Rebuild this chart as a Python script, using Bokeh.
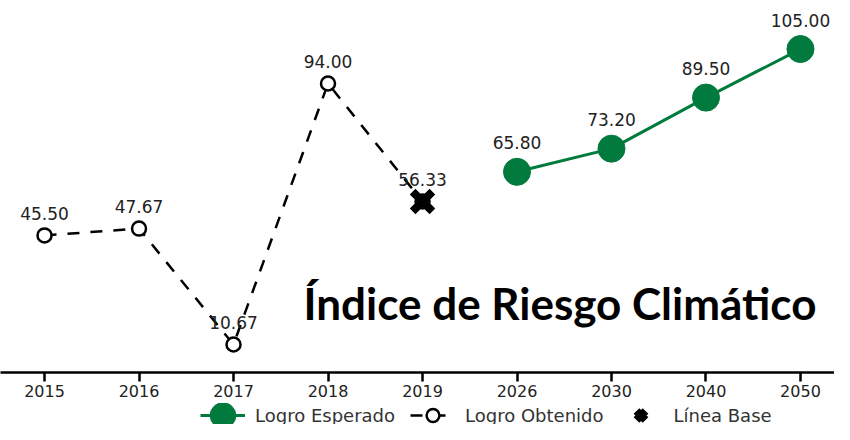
from bokeh.plotting import figure
from bokeh.layouts import column
from bokeh.models import Range1d, FixedTicker, Legend, LegendItem, Label, ColumnDataSource
from bokeh.core.properties import value
from bokeh.embed import file_html
from bokeh.resources import INLINE

# ---- data ----
years = ["2015", "2016", "2017", "2018", "2019", "2026", "2030", "2040", "2050"]
obtenido_years = ["2015", "2016", "2017", "2018", "2019"]
obtenido = [45.50, 47.67, 10.67, 94.00, 56.33]
esperado_years = ["2026", "2030", "2040", "2050"]
esperado = [65.80, 73.20, 89.50, 105.00]
base_years = ["2019"]
base = [56.33]
title_text = "Índice de Riesgo Climático"

GREEN = "#007a3d"
FONT = "DejaVu Sans"


def xpos(ys):
    return [years.index(y) for y in ys]


src_o = ColumnDataSource(dict(x=xpos(obtenido_years), y=obtenido,
                              label=[f"{v:.2f}" for v in obtenido]))
src_e = ColumnDataSource(dict(x=xpos(esperado_years), y=esperado,
                              label=[f"{v:.2f}" for v in esperado]))
src_b = ColumnDataSource(dict(x=xpos(base_years), y=base))


def draw_series(fig):
    lo = fig.line("x", "y", source=src_o, line_color="black", line_width=2.5, line_dash="12 11")
    co = fig.scatter("x", "y", source=src_o, marker="circle", size=14, fill_color="white",
                     line_color="black", line_width=2.5)
    le = fig.line("x", "y", source=src_e, line_color=GREEN, line_width=3)
    ce = fig.ellipse("x", "y", width=27, height=27, width_units="screen", height_units="screen",
                     source=src_e, fill_color=GREEN, line_color=GREEN)
    xb = fig.scatter("x", "y", source=src_b, marker="x", size=28, line_color="black", line_width=8)
    return lo, co, le, ce, xb


def clean(fig):
    fig.outline_line_color = None
    fig.grid.visible = False
    fig.background_fill_color = "white"
    fig.border_fill_color = "white"


# ---- main chart ----
p = figure(width=834, height=403, output_backend="svg", toolbar_location=None,
           x_range=Range1d(-0.466, 8.360), y_range=Range1d(1.73, 120.5),
           y_axis_location=None,
           min_border_left=0, min_border_right=0, min_border_top=0, min_border_bottom=31)
clean(p)
draw_series(p)

p.text("x", "y", text="label", source=src_o, text_font=value(FONT), text_font_size="17px",
       text_align="center", text_baseline="alphabetic", y_offset=-22, text_color="#222222")
p.text("x", "y", text="label", source=src_e, text_font=value(FONT), text_font_size="17px",
       text_align="center", text_baseline="alphabetic", y_offset=-29, text_color="#222222")

ax = p.xaxis[0]
ax.ticker = FixedTicker(ticks=list(range(len(years))))
ax.major_label_overrides = {i: y for i, y in enumerate(years)}
ax.axis_line_color = "black"
ax.axis_line_width = 2.5
ax.major_tick_line_color = "black"
ax.major_tick_line_width = 2.5
ax.major_tick_out = 9
ax.major_tick_in = 0
ax.minor_tick_out = 0
ax.minor_tick_in = 0
ax.major_label_text_font = FONT
ax.major_label_text_font_size = "16px"
ax.major_label_text_color = "#222222"
ax.major_label_standoff = 3

p.add_layout(Label(x=303, y=70, x_units="screen", y_units="screen", text=title_text,
                   text_font="Lato", text_font_style="bold", text_font_size="44px",
                   text_color="black", text_baseline="alphabetic"))

# ---- legend strip (same series, kept out of its view; only the legend shows) ----
q = figure(width=834, height=21, output_backend="svg", toolbar_location=None,
           x_range=Range1d(-0.466, 8.360), y_range=Range1d(-2, -1),
           x_axis_location=None, y_axis_location=None,
           min_border_left=0, min_border_right=0, min_border_top=0, min_border_bottom=0)
clean(q)
lo, co, le, ce, xb = draw_series(q)

legend = Legend(items=[
    LegendItem(label="Logro Esperado", renderers=[le, ce]),
    LegendItem(label="Logro Obtenido", renderers=[lo, co]),
    LegendItem(label="Línea Base", renderers=[xb]),
], orientation="horizontal", location=(200, -7))
legend.glyph_width = 45
legend.glyph_height = 32
legend.label_height = 20
legend.label_standoff = 10
legend.spacing = 15
legend.padding = 0
legend.margin = 0
legend.border_line_alpha = 0
legend.background_fill_alpha = 0
legend.label_text_font = FONT
legend.label_text_font_size = "18px"
legend.label_text_color = "#333333"
q.add_layout(legend, "center")

layout = column(p, q, spacing=0)
open("out.html", "w").write(file_html(layout, INLINE))
